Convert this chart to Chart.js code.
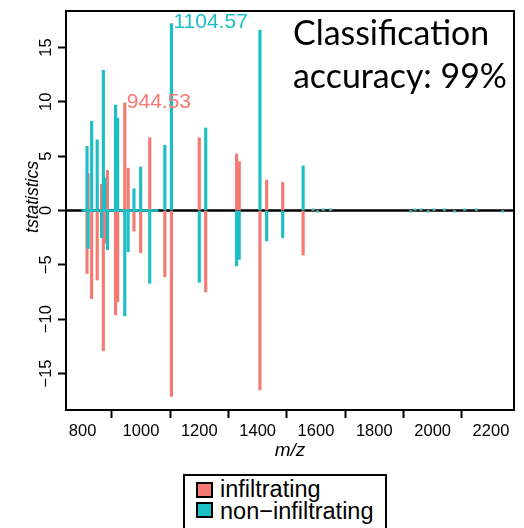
<!DOCTYPE html>
<html>
<head>
<meta charset="utf-8">
<script src="https://cdn.jsdelivr.net/npm/chart.js@4.4.1/dist/chart.umd.min.js"></script>
<style>
  html, body { margin: 0; padding: 0; background: #fff; }
  #wrap { position: relative; width: 524px; height: 528px; overflow: hidden; }
  #myChart { position: absolute; left: 0; top: 0; }
  #legend {
    position: absolute; left: 183px; top: 474px; width: 204px; height: 70px;
    border: 2px solid #000; box-sizing: border-box;
    font-family: "Liberation Sans", Arial, sans-serif; font-size: 23.5px; color: #000;
  }
  .sw { position: absolute; left: 11px; width: 17px; height: 16px; border: 2px solid #000; box-sizing: border-box; }
  .lbl { position: absolute; left: 35px; line-height: 22px; white-space: nowrap; }
</style>
</head>
<body>
<div id="wrap">
  <canvas id="myChart" width="524" height="470"></canvas>
  <div id="legend">
    <div class="sw" style="top:6px;background:#F47A72"></div>
    <div class="lbl" style="top:2px">infiltrating</div>
    <div class="sw" style="top:26px;background:#1DBFC6"></div>
    <div class="lbl" style="top:24px">non−infiltrating</div>
  </div>
</div>
<script>
// peak positions (m/z) and t statistics per class
const mzValues = [815, 819, 831, 850, 865, 871, 876, 885, 913, 920, 944.53, 956, 976, 999,
  1030, 1082, 1104.57, 1200, 1222, 1328, 1337, 1408, 1431, 1486, 1556,
  1590, 1605, 1625, 1650, 1925, 1940, 1960, 1985, 2005, 2040, 2075, 2110, 2150, 2240];
const infiltrating = [-5.8, 3.4, -8.1, -6.4, 2.4, -12.9, -3.0, 3.7, -9.6, -8.4, 9.9, 3.9, -1.9, -3.9,
  6.7, -6.1, -17.1, 6.7, -7.5, 5.2, 4.5, -16.5, 2.8, 2.6, -4.1,
  0, 0, 0, 0, 0, 0, 0, 0, 0, 0, 0, 0, 0, 0];
const nonInfiltrating = [5.9, -3.5, 8.2, 6.5, -2.5, 12.9, 3.0, -3.6, 9.7, 8.5, -9.7, -3.8, 2.0, 4.0,
  -6.7, 6.0, 17.2, -6.6, 7.6, -5.1, -4.5, 16.6, -2.8, -2.5, 4.1,
  0.15, -0.15, 0.15, 0.15, -0.15, 0.15, 0.15, -0.15, 0.15, 0.15, -0.15, 0.15, 0.15, -0.15];
const denseBaseline = [797, 1060]; // near-zero teal band in the dense region
const xTicks = [800, 1000, 1200, 1400, 1600, 1800, 2000, 2200];
const yTicks = [-15, -10, -5, 0, 5, 10, 15];
const peakLabels = [
  { mz: 1104.57, t: 17.2, text: "1104.57", color: "#1DBFC6" },
  { mz: 944.53, t: 9.9, text: "944.53", color: "#F47A72" },
];

const salmon = "#F47A72";
const teal = "#1DBFC6";

const boxPlugin = {
  id: "boxPlugin",
  beforeDatasetsDraw(chart) {
    const { ctx, chartArea, scales } = chart;
    const y0 = scales.y.getPixelForValue(0);
    ctx.save();
    ctx.strokeStyle = "#000";
    ctx.lineWidth = 2.5;
    ctx.beginPath();
    ctx.moveTo(chartArea.left, y0);
    ctx.lineTo(chartArea.right, y0);
    ctx.stroke();
    ctx.restore();
  },
  afterDatasetsDraw(chart) {
    const { ctx, chartArea, scales } = chart;
    ctx.save();
    // peak labels
    ctx.font = '21px "Liberation Sans", Arial, sans-serif';
    ctx.textBaseline = "middle";
    ctx.textAlign = "left";
    peakLabels.forEach(function (p) {
      ctx.fillStyle = p.color;
      ctx.fillText(p.text, scales.x.getPixelForValue(p.mz) + 2, scales.y.getPixelForValue(p.t) - 1);
    });
    // plot box
    ctx.strokeStyle = "#000";
    ctx.lineWidth = 2;
    ctx.strokeRect(chartArea.left, chartArea.top, chartArea.right - chartArea.left, chartArea.bottom - chartArea.top);
    // y axis title
    ctx.fillStyle = "#000";
    ctx.font = 'italic 17.5px "Liberation Sans", Arial, sans-serif';
    ctx.textAlign = "center";
    ctx.translate(33, 197);
    ctx.rotate(-Math.PI / 2);
    ctx.fillText("tstatistics", 0, 0);
    ctx.restore();

    // accuracy note
    ctx.save();
    ctx.fillStyle = "#000";
    ctx.font = "100px Lato";
    const size = 100 * 196 / ctx.measureText("Classification").width;
    ctx.font = size.toFixed(1) + "px Lato";
    ctx.textBaseline = "alphabetic";
    ctx.textAlign = "left";
    ctx.fillText("Classification", 293, 45);
    ctx.fillText("accuracy: 99%", 293, 88);
    ctx.restore();
  },
};

document.addEventListener("DOMContentLoaded", function () {
  const ctx = document.getElementById("myChart").getContext("2d");
  const config = {
    type: "bar",
    data: {
      datasets: [
        {
          label: "infiltrating",
          data: mzValues.map((m, i) => ({ x: m, y: infiltrating[i] })),
          backgroundColor: salmon,
          barThickness: 2.5,
          order: 2,
        },
        {
          label: "non−infiltrating",
          data: mzValues.map((m, i) => ({ x: m, y: nonInfiltrating[i] })),
          backgroundColor: teal,
          barThickness: 2.5,
          order: 1,
        },
        {
          type: "line",
          label: "baseline",
          data: denseBaseline.map((m) => ({ x: m, y: 0 })),
          borderColor: teal,
          borderWidth: 2.5,
          pointRadius: 0,
          order: 0,
        },
      ],
    },
    options: {
      responsive: false,
      animation: false,
      grouped: false,
      layout: { padding: { top: 11, right: 10, left: 0, bottom: 0 } },
      plugins: {
        legend: { display: false },
        tooltip: { enabled: false },
      },
      scales: {
        x: {
          type: "linear",
          min: 743,
          max: 2279,
          offset: false,
          afterFit: (s) => { s.height = 60; },
          afterBuildTicks: (s) => { s.ticks = xTicks.map((v) => ({ value: v })); },
          grid: { drawOnChartArea: false, tickLength: 8, tickWidth: 2, tickColor: "#000" },
          border: { display: false },
          ticks: {
            color: "#000",
            maxRotation: 0,
            padding: 4,
            font: { family: '"Liberation Sans", Arial, sans-serif', size: 16.5 },
            callback: (v) => String(v),
          },
          title: {
            display: true,
            text: "m/z",
            color: "#000",
            padding: { top: 0, bottom: 8 },
            font: { family: '"Liberation Sans", Arial, sans-serif', size: 19, style: "italic" },
          },
        },
        y: {
          min: -18.36,
          max: 18.36,
          afterFit: (s) => { s.width = 66; },
          afterBuildTicks: (s) => { s.ticks = yTicks.map((v) => ({ value: v })); },
          grid: { drawOnChartArea: false, tickLength: 8, tickWidth: 2, tickColor: "#000" },
          border: { display: false },
          ticks: {
            color: "#000",
            minRotation: 90,
            maxRotation: 90,
            crossAlign: "center",
            padding: -2,
            font: { family: '"Liberation Sans", Arial, sans-serif', size: 16.5 },
            callback: (v) => String(v).replace("-", "−"),
          },
        },
      },
    },
    plugins: [boxPlugin],
  };

  const chart = new Chart(ctx, config);
});
</script>
</body>
</html>
